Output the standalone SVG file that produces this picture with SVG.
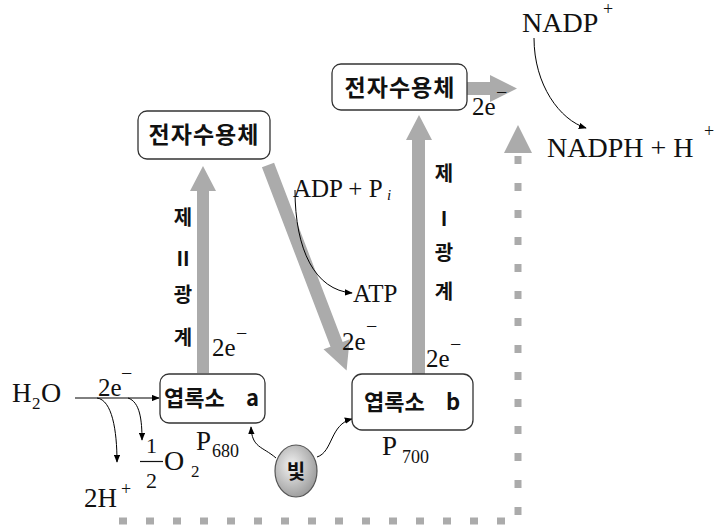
<svg xmlns="http://www.w3.org/2000/svg" width="725" height="530" viewBox="0 0 725 530">
<defs>
<marker id="ah" viewBox="0 0 10 8" refX="9" refY="4" markerWidth="8" markerHeight="6.4" markerUnits="userSpaceOnUse" orient="auto">
<path d="M0,0 L10,4 L0,8 Z" fill="#000"/>
</marker>
<radialGradient id="lightg" cx="0.4" cy="0.4" r="0.65">
<stop offset="0" stop-color="#f2f2f2"/>
<stop offset="1" stop-color="#9a9a9a"/>
</radialGradient>
<style>
.box{fill:#fff;stroke:#333;stroke-width:1.3}
.ko{font-family:"Noto Sans CJK KR","Noto Sans",sans-serif;font-weight:bold;fill:#111}
.sf{font-family:"Liberation Serif","Times New Roman",serif;fill:#111}
.thin{fill:none;stroke:#000;stroke-width:1;marker-end:url(#ah)}
.big{fill:#ababab;stroke:none}
.dash{fill:none;stroke:#ababab;stroke-width:7;stroke-dasharray:8 19}
</style>
</defs>
<rect width="725" height="530" fill="#fff"/>

<g id="connectors">
<path class="big" d="M197,373 V191 H190 L203,166 L216,191 H209 V373 Z"/>
<path class="big" transform="translate(268,165) rotate(69.07)" d="M0,-6.5 H192 V-14 L220,0 L192,14 V6.5 H0 Z"/>
<path class="big" d="M412,374 V140 H406 L419,115 L432,140 H425 V374 Z"/>
<path class="big" d="M467,82 H490 V75 L517,88.5 L490,102 V95 H467 Z"/>
<path class="dash" d="M518,156 V521 H103"/>
<path class="big" d="M504,153 L518,125 L532,153 Z"/>
<path class="thin" d="M75,398 H159"/>
<path class="thin" d="M97,398 C112,400 117,430 117,462"/>
<path class="thin" d="M128,398 C140,402 142,420 142,440"/>
<path class="thin" d="M276,458 C262,446 252,448 251,427"/>
<path class="thin" d="M317,457 C333,452 330,424 352,419"/>
<path class="thin" d="M295,190 C295,250 315,290 352,293"/>
<path class="thin" d="M534,38 C534,85 560,120 586,128"/>
</g>

<g id="acceptor1">
<rect class="box" x="138" y="111" width="132" height="48" rx="9"/>
<text class="ko" x="204" y="143" font-size="23" text-anchor="middle" letter-spacing="1">전자수용체</text>
</g>

<g id="acceptor2">
<rect class="box" x="332" y="64" width="135" height="46" rx="9"/>
<text class="ko" x="400" y="96" font-size="23" text-anchor="middle" letter-spacing="1">전자수용체</text>
</g>

<g id="chlA">
<rect class="box" x="160" y="374" width="105" height="49" rx="9"/>
<text class="ko" x="164" y="406" font-size="22">엽록소</text>
<text class="ko" x="246" y="406" font-size="22">a</text>
</g>

<g id="chlB">
<rect class="box" x="352" y="374" width="121" height="56" rx="10"/>
<text class="ko" x="364" y="410" font-size="22">엽록소</text>
<text class="ko" x="446" y="410" font-size="22">b</text>
</g>

<g id="light">
<ellipse cx="296" cy="471" rx="21" ry="26" fill="url(#lightg)" stroke="#555" stroke-width="1.2"/>
<text class="ko" x="296" y="479" font-size="20" text-anchor="middle">빛</text>
</g>

<g id="psII-label" class="ko" font-size="20" text-anchor="middle">
<text x="183" y="225">제</text>
<text x="183" y="266">II</text>
<text x="183" y="302">광</text>
<text x="183" y="345">계</text>
</g>

<g id="psI-label" class="ko" font-size="20" text-anchor="middle">
<text x="444" y="181">제</text>
<text x="444" y="226">I</text>
<text x="444" y="260">광</text>
<text x="444" y="299">계</text>
</g>

<g id="labels" class="sf">
<text x="12" y="402" font-size="27">H</text>
<text x="32" y="409" font-size="17">2</text>
<text x="41" y="402" font-size="28">O</text>

<text x="98" y="396" font-size="25">2e</text>
<text x="121" y="380" font-size="20">−</text>

<text x="146" y="453" font-size="22">1</text>
<line x1="140" y1="461.5" x2="163" y2="461.5" stroke="#111" stroke-width="1.2"/>
<text x="146" y="488" font-size="22">2</text>
<text x="164" y="470" font-size="28">O</text>
<text x="191" y="477" font-size="17">2</text>

<text x="84" y="507" font-size="27">2H</text>
<text x="121" y="495" font-size="18">+</text>

<text x="196" y="450" font-size="27">P</text>
<text x="212" y="457" font-size="18">680</text>

<text x="382" y="455" font-size="27">P</text>
<text x="402" y="463" font-size="18">700</text>

<text x="212" y="356" font-size="25">2e</text>
<text x="236" y="340" font-size="20">−</text>

<text x="342" y="350" font-size="25">2e</text>
<text x="366" y="333" font-size="20">−</text>

<text x="426" y="367" font-size="25">2e</text>
<text x="450" y="351" font-size="20">−</text>

<text x="472" y="115" font-size="25">2e</text>
<text x="496" y="99" font-size="20">−</text>

<text x="293" y="197" font-size="25">ADP + P</text>
<text x="387" y="200" font-size="15" font-style="italic">i</text>

<text x="353" y="302" font-size="25">ATP</text>

<text x="522" y="32" font-size="28">NADP</text>
<text x="603" y="15" font-size="18">+</text>

<text x="547" y="157" font-size="28">NADPH + H</text>
<text x="704" y="137" font-size="18">+</text>
</g>
</svg>
